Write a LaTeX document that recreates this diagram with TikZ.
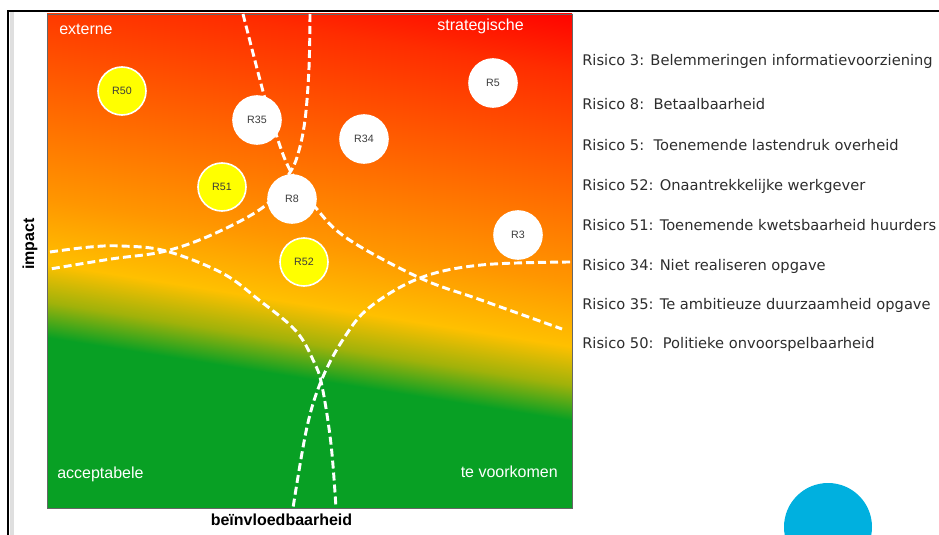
\documentclass[tikz,border=0pt]{standalone}
\usepackage{fontspec}
\setmainfont{Liberation Sans}
\newfontfamily\listfont{DejaVu Sans}
\usepackage{xcolor}
\definecolor{mapgreen}{RGB}{8,160,36}
\definecolor{mapolive}{RGB}{160,178,10}
\definecolor{mapyellow}{RGB}{255,192,0}
\definecolor{maporange}{RGB}{255,150,0}
\definecolor{mapdorange}{RGB}{255,100,0}
\definecolor{mapred}{RGB}{255,45,0}
\definecolor{mapdred}{RGB}{255,0,0}
\definecolor{dotyellow}{RGB}{255,255,0}
\definecolor{labelgray}{RGB}{60,60,60}
\definecolor{listgray}{RGB}{45,45,45}
\definecolor{logoblue}{RGB}{0,176,223}
\usepackage{tikz}
\usetikzlibrary{positioning}

\pgfdeclareverticalshading{riskmap}{100bp}{color(0bp)=(mapgreen); color(40bp)=(mapgreen);
  color(43bp)=(mapolive); color(46.3bp)=(mapyellow); color(51.8bp)=(maporange);
  color(60.3bp)=(mapdorange); color(69.7bp)=(mapred); color(75bp)=(mapdred); color(100bp)=(mapdred)}

\begin{document}
\begin{tikzpicture}[x=0.75pt, y=-0.75pt,
  riskdot/.style={circle, draw=white, line width=1.2pt, minimum size=36pt, inner sep=0pt,
                  font=\fontsize{8}{9}\selectfont, text=labelgray},
  zonelabel/.style={font=\fontsize{12}{14}\selectfont, text=white, inner sep=0pt},
  axislabel/.style={font=\fontsize{12}{14}\selectfont\bfseries, inner sep=0pt},
  risktext/.style={font=\listfont\fontsize{11}{13}\selectfont, text=listgray,
                   anchor=base west, inner sep=0pt},
  divider/.style={white, line width=2.2pt, dash pattern=on 6pt off 3pt}
]

  \useasboundingbox (0,0) rectangle (939,535);

  % ── Frame ──
  \fill[gray!25] (10,12) rectangle (14,535);
  \draw[black, line width=1.5pt] (939,11) -- (8,11) -- (8,535);

  % ── Risk map ──
  \begin{scope}
    \clip (47,14) rectangle (572,508);
    \begin{scope}[transform canvas={rotate around={-9:(309.5,261.5)}}]
      \shade[shading=riskmap] (9.5,-28.5) rectangle (609.5,551.5);
    \end{scope}
  \end{scope}
  \draw[gray!80!black, line width=0.6pt] (47,14) rectangle (572,508);

  % ── Zone borders ──
  \draw[divider] plot[smooth, tension=0.6] coordinates {(243,14) (264,95) (276,134) (290,170)
    (316,208) (348,239) (420,278) (481,300) (562,329)};
  \draw[divider] plot[smooth, tension=0.6] coordinates {(310,14) (309,68) (305,120) (298,154)
    (289,174) (266,205) (218,232) (166,251) (111,259) (50,269)};
  \draw[divider] plot[smooth, tension=0.6] coordinates {(50,252) (90,247) (122,246) (166,251)
    (222,273) (259,300) (296,331) (314,362) (322,386) (331,444) (336,508)};
  \draw[divider] plot[smooth, tension=0.6] coordinates {(570,262) (481,265) (420,278)
    (370,307) (344,338) (322,379) (307,427) (293,508)};

  % ── Risks ──
  \foreach \nm/\px/\py/\col in {R50/122/91/dotyellow, R35/257/120/white, R34/364/139/white,
      R5/493/83/white, R51/222/187/dotyellow, R8/292/199/white, R3/518/235/white,
      R52/304/262/dotyellow}
    \node[riskdot, fill=\col] (\nm) at (\px,\py) {\nm};

  % ── Zone names ──
  \node[zonelabel, anchor=base west] (ext)   at (59,35)   {externe};
  \node[zonelabel, anchor=base east] (strat) at (524,31)  {strategische};
  \node[zonelabel, anchor=base west] (acc)   at (57,478)  {acceptabele};
  \node[zonelabel, anchor=base east] (prev)  at (558,477) {te voorkomen};

  % ── Axes ──
  \node[axislabel, rotate=90] (impact) at (30,244) {impact};
  \node[axislabel, anchor=base] (infl) at (281.5,525) {beïnvloedbaarheid};

  % ── Legend ──
  \foreach \nm/\yy/\txt in {lst3/66/{Risico 3: Belemmeringen informatievoorziening},
      lst8/109/{Risico 8:\ \ Betaalbaarheid},
      lst5/150/{Risico 5:\ \ Toenemende lastendruk overheid},
      lst52/190/{Risico 52: Onaantrekkelijke werkgever},
      lst51/230/{Risico 51: Toenemende kwetsbaarheid huurders},
      lst34/270/{Risico 34: Niet realiseren opgave},
      lst35/309/{Risico 35: Te ambitieuze duurzaamheid opgave},
      lst50/348/{Risico 50:\ \ Politieke onvoorspelbaarheid}}
    \node[risktext] (\nm) at (582,\yy) {\txt};

  % ── Logo ──
  \node[circle, fill=logoblue, minimum size=66pt, inner sep=0pt] (logo) at (828,527) {};

\end{tikzpicture}
\end{document}
